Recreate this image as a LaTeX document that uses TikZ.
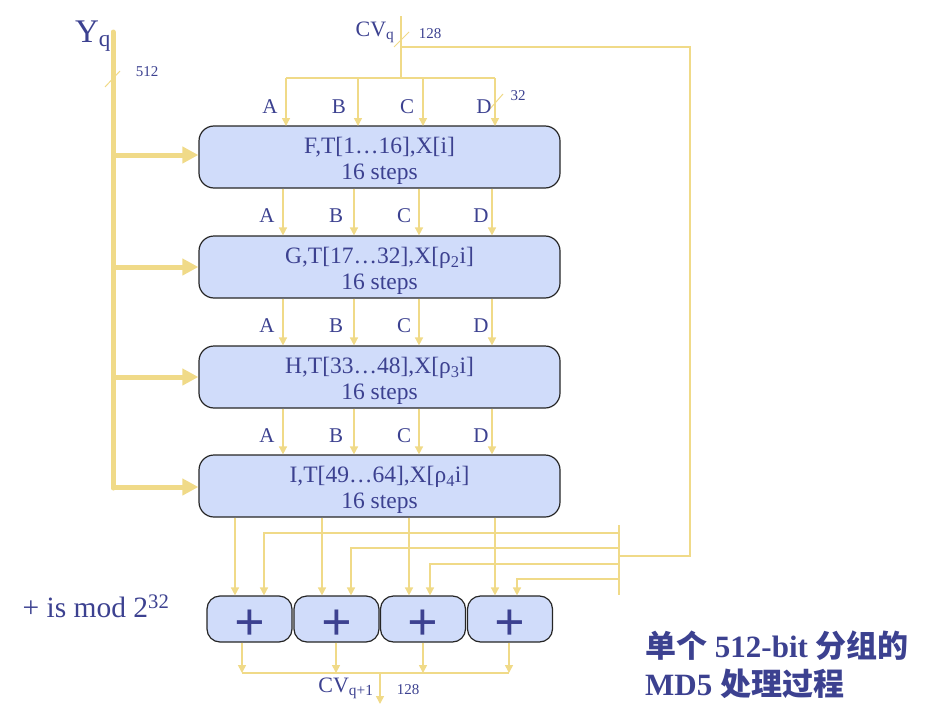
\documentclass[tikz,border=0pt]{standalone}
\usepackage{fontspec}
\setmainfont{Liberation Serif}
\newfontfamily\cjk{Noto Sans CJK SC}
\usetikzlibrary{arrows.meta}
\definecolor{txt}{HTML}{3C4190}
\definecolor{ln}{HTML}{F0DA88}
\definecolor{bx}{HTML}{D0DCFA}
\begin{document}
\begin{tikzpicture}[x=1pt,y=-1pt,
  roundbox/.style={draw=black!85,line width=1.2pt,fill=bx,rounded corners=15pt,minimum width=361pt,minimum height=62pt,inner sep=0pt},
  boxtext/.style={align=center,inner sep=0pt,text=txt,font=\fontsize{23.5}{26}\selectfont},
  plusbox/.style={draw=black!85,line width=1.2pt,fill=bx,rounded corners=13pt,minimum width=85pt,minimum height=46pt,inner sep=0pt},
  plustext/.style={text=txt,inner sep=0pt,font=\fontsize{54}{54}\selectfont\bfseries},
  wire/.style={draw=ln,line width=1.6pt},
  arr/.style={wire,-{Triangle[length=8pt,width=8pt]}},
  bus/.style={draw=ln,line width=5pt},
  busarr/.style={bus,-{Triangle[length=16pt,width=16pt]}},
  lbl/.style={text=txt,inner sep=0pt,font=\fontsize{21}{21}\selectfont},
  small/.style={text=txt,inner sep=0pt,font=\fontsize{15}{15}\selectfont}]
\useasboundingbox (0,0) rectangle (932,720);

% round boxes
\node[roundbox] (r1) at (379.5,157) {};
\node[roundbox] (r2) at (379.5,267) {};
\node[roundbox] (r3) at (379.5,377) {};
\node[roundbox] (r4) at (379.5,486) {};
\node[boxtext] (t1) at ([yshift=-4pt]r1.center) {F,T[1…16],X[i]\\16 steps};
\node[boxtext] (t2) at ([yshift=-4pt]r2.center) {G,T[17…32],X[ρ\textsubscript{2}i]\\16 steps};
\node[boxtext] (t3) at ([yshift=-4pt]r3.center) {H,T[33…48],X[ρ\textsubscript{3}i]\\16 steps};
\node[boxtext] (t4) at ([yshift=-4pt]r4.center) {I,T[49…64],X[ρ\textsubscript{4}i]\\16 steps};

% plus boxes
\node[plusbox] (p1) at (249.5,619) {};
\node[plusbox] (p2) at (336.5,619) {};
\node[plusbox] (p3) at (423,619) {};
\node[plusbox] (p4) at (510,619) {};
\foreach \p in {p1,p2,p3,p4}{
  \node[plustext] (\p t) at ([yshift=-6pt]\p.center) {+};
}

% Yq bus
\coordinate (ytop) at (113,32);
\coordinate (ybot) at (113,488);
\draw[bus,line cap=round] (ytop) -- (ybot);
\node[text=txt,inner sep=0pt,font=\fontsize{33}{33}\selectfont] (yq) at (93,36) {Y\textsubscript{q}};
\draw[ln,line width=1pt] (105,87) -- (120,71);
\node[small] (n512) at (147,72) {512};
\foreach \i/\y in {1/155,2/267,3/377,4/487}{
  \draw[busarr] (113,\y) -- (r\i.west |- 0,\y);
}

% CVq input
\node[text=txt,inner sep=0pt,font=\fontsize{22}{22}\selectfont] (cvq) at (375,32) {CV\textsubscript{q}};
\coordinate (cvtop) at (401,16);
\coordinate (cvj) at (401,78);
\draw[wire] (cvtop) -- (cvj);
\draw[ln,line width=1pt] (394,47) -- (409,32);
\node[small] (n128) at (430,34) {128};
\draw[wire] (401,47) -- (690,47) -- (690,556) -- (619,556);
\draw[wire] (286,78) -- (495,78);
\foreach \x in {286,358,423,495}{
  \draw[arr] (\x,78) -- (\x,126);
}
\draw[ln,line width=1pt] (489,110) -- (503,94);
\node[small] (n32) at (518,96) {32};
\node[lbl] at (270,107) {A};
\node[lbl] at (339,107) {B};
\node[lbl] at (407,107) {C};
\node[lbl] at (484,107) {D};

% between boxes
\foreach \a/\b/\ly in {r1/r2/216,r2/r3/326,r3/r4/436}{
  \foreach \x in {283,354,419,492}{
    \draw[arr] (\x,0 |- \a.south) -- (\x,0 |- \b.north);
  }
  \node[lbl] at (267,\ly) {A};
  \node[lbl] at (336,\ly) {B};
  \node[lbl] at (404,\ly) {C};
  \node[lbl] at (481,\ly) {D};
}

% box4 outputs to plus boxes
\draw[arr] (235,0 |- r4.south) -- (235,0 |- p1.north);
\draw[arr] (322,0 |- r4.south) -- (322,0 |- p2.north);
\draw[arr] (409,0 |- r4.south) -- (409,0 |- p3.north);
\draw[arr] (495,0 |- r4.south) -- (495,0 |- p4.north);

% feedback from CVq
\draw[wire] (619,525) -- (619,595);
\draw[arr] (619,533) -- (264,533) -- (264,0 |- p1.north);
\draw[arr] (619,548) -- (351,548) -- (351,0 |- p2.north);
\draw[arr] (619,564) -- (430,564) -- (430,0 |- p3.north);
\draw[arr] (619,579) -- (517,579) -- (517,0 |- p4.north);

% outputs
\draw[arr] (242,0 |- p1.south) -- (242,673);
\draw[arr] (336,0 |- p2.south) -- (336,673);
\draw[arr] (423,0 |- p3.south) -- (423,673);
\draw[arr] (509,0 |- p4.south) -- (509,673);
\draw[wire] (242,673) -- (509,673);
\draw[arr] (380,673) -- (380,704);
\node[text=txt,inner sep=0pt,font=\fontsize{22}{22}\selectfont] (cvq1) at (346,688) {CV\textsubscript{q+1}};
\node[small] (o128) at (408,690) {128};

% notes
\node[text=txt,inner sep=0pt,font=\fontsize{29.5}{29.5}\selectfont] (mod) at (96,606) {+ is mod 2\textsuperscript{32}};
\node[text=txt,inner sep=0pt,anchor=west,font=\fontsize{31}{31}\selectfont\bfseries] (c1) at (645,646) {{\cjk 单个} 512-bit {\cjk 分组的}};
\node[text=txt,inner sep=0pt,anchor=west,font=\fontsize{31}{31}\selectfont\bfseries] (c2) at (645,684) {MD5 {\cjk 处理过程}};
\end{tikzpicture}
\end{document}
